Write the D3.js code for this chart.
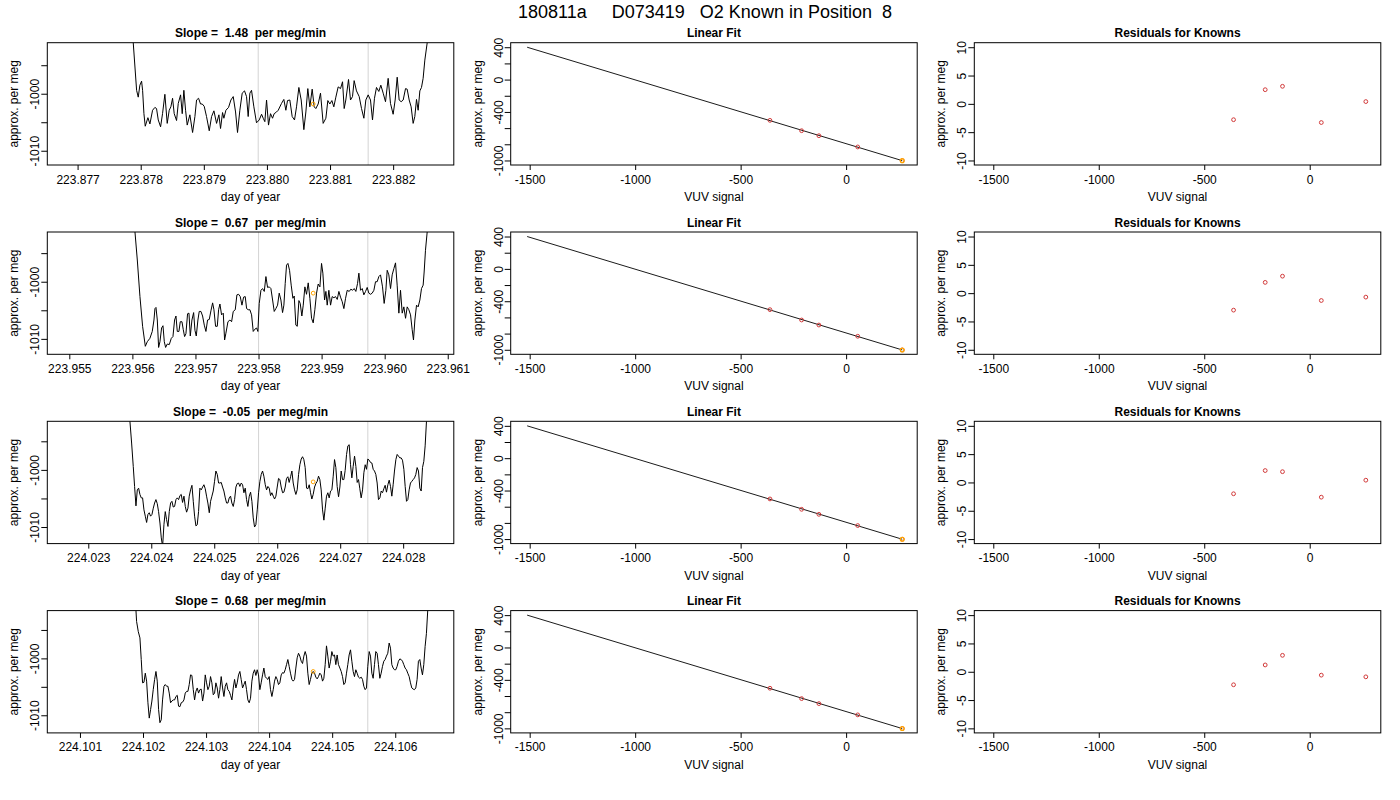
<!DOCTYPE html>
<html>
<head>
<meta charset="utf-8">
<script src="https://cdn.jsdelivr.net/npm/d3@7"></script>
<style>
  body { margin: 0; background: #fff; }
  svg { font-family: "Liberation Sans", Arial, Helvetica, sans-serif; }
</style>
</head>
<body>
<svg id="chart" width="1400" height="800"></svg>
<script>
// _____

// Data
// _____

const pageTitle = "180811a     D073419   O2 Known in Position  8";

// one entry per row: first day tick, slope text, x / y ranges of the trace panel
const baseDays = [223.877, 223.955, 224.023, 224.101];
const slopeText = ["1.48", "0.67", "-0.05", "0.68"];
const dayRange = [[-0.480, 5.961], [-0.349, 6.096], [-0.651, 5.804], [-0.518, 5.929]];
const megRange = [[-1012.5, -991.05], [-1012.7, -991.3], [-1012.9, -991.5], [-1013.1, -991.6]];

// traces: [thousandths of a day after baseDays[row], per meg]
const trace1 = [[0.866,-987.1],[0.882,-991.1],[0.935,-999.4],[0.961,-1000.6],[0.987,-998.5],[1.014,-997.8],[1.030,-999.4],[1.051,-1003.5],[1.072,-1005.7],[1.114,-1004.2],[1.146,-1005.3],[1.188,-1002.9],[1.225,-1002.4],[1.251,-1002.6],[1.278,-1004.6],[1.315,-1005.8],[1.346,-1003.5],[1.383,-1000.1],[1.420,-1005.2],[1.452,-1002.9],[1.478,-1002.3],[1.505,-1000.8],[1.531,-1003.5],[1.568,-1004.7],[1.595,-1001.7],[1.632,-1000.2],[1.658,-1003.5],[1.684,-999.4],[1.711,-1002.9],[1.737,-1005.5],[1.779,-1003.7],[1.822,-1006.8],[1.859,-1004.0],[1.885,-1001.1],[1.917,-1000.8],[1.948,-1001.8],[1.975,-1001.8],[2.006,-1002.2],[2.043,-1004.0],[2.086,-1006.5],[2.123,-1004.0],[2.160,-1003.0],[2.202,-1005.2],[2.239,-1003.7],[2.265,-1006.1],[2.297,-1003.3],[2.318,-1004.3],[2.350,-1002.9],[2.392,-1002.4],[2.429,-1001.1],[2.466,-1000.5],[2.503,-1003.2],[2.534,-1006.8],[2.571,-1002.9],[2.608,-999.9],[2.645,-999.5],[2.677,-1000.5],[2.703,-1004.0],[2.730,-999.9],[2.756,-999.4],[2.793,-1002.3],[2.835,-1005.1],[2.878,-1004.6],[2.915,-1003.6],[2.941,-1004.3],[2.967,-1004.9],[2.994,-1001.1],[3.025,-1005.5],[3.057,-1003.5],[3.089,-1004.3],[3.115,-1003.5],[3.152,-1003.2],[3.179,-1002.9],[3.231,-1001.7],[3.268,-1001.0],[3.300,-1002.9],[3.326,-1001.2],[3.363,-1001.1],[3.400,-1004.0],[3.437,-1004.6],[3.469,-1002.3],[3.506,-998.9],[3.543,-1001.1],[3.585,-1006.3],[3.617,-1003.2],[3.648,-999.1],[3.680,-1002.3],[3.717,-999.2],[3.749,-1002.3],[3.775,-1002.6],[3.812,-1001.8],[3.849,-999.9],[3.891,-1005.2],[3.934,-1004.3],[3.965,-1001.2],[3.997,-1001.8],[4.029,-1001.2],[4.060,-1002.3],[4.092,-1000.6],[4.129,-998.8],[4.166,-999.1],[4.198,-997.9],[4.224,-1002.6],[4.250,-1001.1],[4.293,-997.5],[4.324,-1001.1],[4.356,-1000.5],[4.382,-997.7],[4.419,-999.5],[4.462,-1000.5],[4.499,-1002.6],[4.536,-1004.3],[4.567,-1001.1],[4.604,-1000.2],[4.641,-1001.1],[4.673,-1004.6],[4.704,-1000.8],[4.736,-998.9],[4.773,-999.6],[4.805,-998.5],[4.842,-999.9],[4.879,-1001.4],[4.921,-997.3],[4.958,-1001.7],[5.000,-1003.6],[5.032,-1001.1],[5.064,-997.1],[5.095,-1001.1],[5.127,-1001.4],[5.159,-1001.1],[5.196,-999.1],[5.222,-999.2],[5.254,-1001.1],[5.285,-1002.3],[5.317,-1005.2],[5.343,-1004.0],[5.370,-1001.0],[5.396,-1002.9],[5.423,-999.5],[5.449,-998.9],[5.475,-997.3],[5.502,-994.1],[5.539,-991.1],[5.560,-987.1]];

const trace2 = [[1.014,-986.3],[1.041,-991.3],[1.078,-996.2],[1.120,-1002.6],[1.162,-1007.8],[1.205,-1011.3],[1.236,-1010.5],[1.278,-1009.9],[1.315,-1008.7],[1.342,-1006.7],[1.358,-1004.7],[1.374,-1004.5],[1.395,-1006.7],[1.416,-1011.5],[1.437,-1010.5],[1.463,-1008.1],[1.485,-1007.7],[1.506,-1010.5],[1.527,-1011.5],[1.553,-1010.9],[1.585,-1011.0],[1.617,-1009.9],[1.643,-1009.6],[1.669,-1006.7],[1.691,-1006.0],[1.712,-1008.7],[1.738,-1008.7],[1.759,-1007.0],[1.786,-1007.0],[1.807,-1008.4],[1.828,-1009.6],[1.849,-1009.1],[1.875,-1005.6],[1.897,-1005.5],[1.918,-1009.5],[1.944,-1006.7],[1.971,-1005.4],[1.992,-1008.5],[2.013,-1009.5],[2.039,-1006.7],[2.060,-1005.2],[2.087,-1005.2],[2.113,-1006.0],[2.140,-1007.6],[2.166,-1008.7],[2.192,-1006.7],[2.219,-1006.6],[2.245,-1005.1],[2.272,-1003.7],[2.293,-1004.9],[2.319,-1007.8],[2.346,-1007.8],[2.367,-1004.9],[2.388,-1003.9],[2.414,-1005.8],[2.441,-1005.5],[2.462,-1010.2],[2.483,-1009.0],[2.515,-1007.0],[2.546,-1006.7],[2.573,-1007.0],[2.599,-1005.2],[2.631,-1004.9],[2.657,-1002.3],[2.684,-1002.2],[2.710,-1002.6],[2.737,-1004.1],[2.763,-1002.7],[2.789,-1002.6],[2.811,-1004.7],[2.837,-1004.9],[2.863,-1004.9],[2.890,-1005.8],[2.916,-1008.7],[2.943,-1008.3],[2.969,-1008.1],[2.990,-1008.7],[3.011,-1003.8],[3.038,-1001.5],[3.064,-1001.2],[3.091,-1001.7],[3.117,-999.1],[3.143,-1001.0],[3.170,-1000.9],[3.196,-1001.2],[3.223,-1003.2],[3.249,-1005.2],[3.275,-1004.7],[3.302,-1004.1],[3.328,-1002.0],[3.355,-1003.2],[3.381,-1005.4],[3.402,-1004.1],[3.423,-1000.3],[3.444,-997.1],[3.466,-996.8],[3.492,-998.0],[3.518,-1000.6],[3.545,-1002.9],[3.566,-1002.5],[3.592,-1007.6],[3.614,-1007.8],[3.640,-1003.3],[3.661,-1003.8],[3.687,-1006.0],[3.709,-1004.1],[3.735,-1000.9],[3.761,-1002.2],[3.788,-1000.2],[3.814,-1002.9],[3.841,-1006.4],[3.867,-1007.2],[3.893,-1004.9],[3.920,-1002.0],[3.946,-1000.4],[3.973,-1000.9],[3.999,-996.8],[4.020,-998.5],[4.047,-1003.2],[4.068,-1001.7],[4.089,-1004.1],[4.115,-1001.5],[4.142,-1004.1],[4.168,-1002.6],[4.195,-1002.8],[4.221,-1002.6],[4.248,-1003.1],[4.274,-1001.7],[4.300,-1002.7],[4.327,-1003.5],[4.353,-1004.7],[4.380,-1002.9],[4.406,-1001.5],[4.438,-1001.7],[4.464,-1001.3],[4.491,-1001.5],[4.517,-1001.2],[4.543,-1001.7],[4.570,-1000.3],[4.591,-998.5],[4.617,-1001.5],[4.644,-1001.2],[4.670,-1002.3],[4.697,-1001.7],[4.723,-1001.0],[4.749,-1002.0],[4.776,-1002.2],[4.802,-1002.0],[4.829,-1001.5],[4.855,-1000.0],[4.881,-1000.0],[4.908,-999.1],[4.934,-998.8],[4.966,-1000.9],[4.992,-1003.8],[5.019,-1001.5],[5.040,-998.0],[5.066,-998.8],[5.093,-1001.2],[5.119,-998.8],[5.146,-997.7],[5.172,-996.7],[5.198,-1000.6],[5.225,-1005.5],[5.251,-1001.5],[5.278,-1005.5],[5.304,-1004.4],[5.331,-1006.4],[5.357,-1004.4],[5.383,-1004.9],[5.410,-1005.8],[5.436,-1008.4],[5.457,-1010.2],[5.479,-1006.7],[5.505,-1004.1],[5.531,-1004.4],[5.558,-1003.2],[5.584,-1001.2],[5.610,-1000.6],[5.626,-998.3],[5.647,-994.5],[5.674,-991.3],[5.695,-987.5]];

const trace3 = [[0.640,-987.7],[0.661,-991.5],[0.688,-995.3],[0.714,-999.4],[0.735,-1002.9],[0.757,-1006.3],[0.778,-1003.5],[0.799,-1003.2],[0.820,-1004.3],[0.841,-1004.9],[0.862,-1004.9],[0.884,-1007.0],[0.905,-1008.1],[0.926,-1009.2],[0.947,-1007.8],[0.968,-1007.5],[0.989,-1008.1],[1.011,-1007.8],[1.032,-1006.7],[1.053,-1005.8],[1.074,-1005.2],[1.095,-1005.9],[1.116,-1007.3],[1.138,-1009.3],[1.159,-1011.9],[1.180,-1013.4],[1.201,-1009.6],[1.222,-1007.3],[1.243,-1008.7],[1.265,-1009.9],[1.286,-1007.3],[1.307,-1005.8],[1.328,-1005.5],[1.349,-1006.5],[1.370,-1006.4],[1.392,-1005.2],[1.413,-1004.9],[1.434,-1005.2],[1.455,-1004.5],[1.476,-1004.3],[1.497,-1005.7],[1.519,-1004.6],[1.540,-1006.4],[1.561,-1007.4],[1.582,-1006.7],[1.603,-1004.6],[1.624,-1003.5],[1.646,-1002.7],[1.667,-1005.5],[1.688,-1008.1],[1.709,-1009.8],[1.730,-1009.6],[1.751,-1007.3],[1.772,-1003.2],[1.794,-1003.5],[1.815,-1003.0],[1.836,-1002.6],[1.857,-1003.3],[1.878,-1004.6],[1.899,-1005.8],[1.921,-1007.5],[1.942,-1005.5],[1.963,-1004.6],[1.984,-1003.7],[2.005,-1002.0],[2.026,-1000.2],[2.048,-1000.8],[2.069,-1002.3],[2.090,-1002.3],[2.111,-1002.2],[2.132,-1003.0],[2.153,-1003.7],[2.175,-1004.9],[2.196,-1005.8],[2.217,-1005.8],[2.238,-1004.9],[2.259,-1004.6],[2.280,-1005.8],[2.302,-1006.4],[2.323,-1005.2],[2.344,-1003.0],[2.365,-1002.4],[2.386,-1002.3],[2.407,-1002.9],[2.429,-1002.3],[2.450,-1002.6],[2.471,-1004.0],[2.492,-1003.2],[2.513,-1005.2],[2.534,-1006.4],[2.556,-1004.6],[2.577,-1003.9],[2.598,-1005.5],[2.619,-1008.4],[2.640,-1010.0],[2.661,-1009.6],[2.683,-1007.0],[2.704,-1004.0],[2.725,-1002.0],[2.746,-1000.8],[2.767,-1000.2],[2.788,-1001.1],[2.810,-1002.6],[2.831,-1003.5],[2.852,-1002.9],[2.873,-1003.2],[2.894,-1004.5],[2.915,-1004.0],[2.937,-1004.6],[2.958,-1005.1],[2.979,-1004.6],[3.000,-1003.0],[3.021,-1001.5],[3.042,-1001.7],[3.063,-1003.0],[3.085,-1004.0],[3.106,-1003.9],[3.127,-1003.0],[3.148,-1001.5],[3.169,-1001.2],[3.190,-1002.2],[3.212,-1001.2],[3.233,-1000.2],[3.254,-1002.3],[3.275,-1003.5],[3.296,-1004.3],[3.317,-1003.5],[3.339,-1000.8],[3.360,-999.1],[3.381,-998.1],[3.402,-997.7],[3.423,-998.2],[3.444,-999.6],[3.466,-1003.2],[3.487,-1003.3],[3.508,-1002.6],[3.529,-1004.0],[3.550,-1005.1],[3.571,-1004.3],[3.593,-1003.0],[3.614,-1002.4],[3.635,-1002.0],[3.656,-1001.1],[3.677,-1001.7],[3.698,-1003.5],[3.720,-1007.0],[3.741,-1008.8],[3.762,-1006.7],[3.783,-1004.6],[3.804,-1004.0],[3.825,-1004.9],[3.847,-1003.7],[3.868,-1003.5],[3.889,-1001.1],[3.910,-998.2],[3.931,-999.6],[3.952,-1002.9],[3.974,-1004.7],[3.995,-1003.0],[4.016,-1000.2],[4.037,-1001.7],[4.058,-1001.7],[4.079,-1000.1],[4.101,-997.3],[4.122,-995.8],[4.143,-995.6],[4.164,-999.1],[4.185,-1001.4],[4.206,-999.4],[4.228,-997.6],[4.249,-999.4],[4.270,-1002.2],[4.291,-1001.7],[4.312,-1003.3],[4.333,-1004.9],[4.355,-1003.5],[4.376,-1000.5],[4.397,-999.1],[4.418,-999.9],[4.439,-998.1],[4.460,-998.3],[4.481,-998.7],[4.503,-998.8],[4.524,-999.9],[4.545,-1000.2],[4.566,-1000.8],[4.587,-1002.3],[4.608,-1005.2],[4.630,-1004.9],[4.651,-1003.7],[4.672,-1004.0],[4.693,-1003.3],[4.714,-1002.7],[4.735,-1003.9],[4.757,-1002.6],[4.778,-1001.8],[4.799,-1002.9],[4.820,-1004.6],[4.841,-1002.6],[4.862,-1000.2],[4.884,-998.2],[4.905,-997.3],[4.926,-997.6],[4.947,-997.9],[4.968,-997.9],[4.989,-998.3],[5.011,-999.9],[5.032,-1002.9],[5.053,-1005.5],[5.074,-1005.2],[5.095,-1003.5],[5.116,-1002.3],[5.138,-1002.0],[5.159,-1001.7],[5.180,-1001.4],[5.201,-1000.8],[5.222,-999.6],[5.243,-1000.2],[5.265,-1003.2],[5.286,-1003.7],[5.307,-999.6],[5.328,-998.5],[5.349,-995.8],[5.370,-991.5],[5.392,-987.7]];

const trace4 = [[0.877,-988.0],[0.888,-991.5],[0.898,-993.5],[0.925,-995.3],[0.951,-996.4],[0.972,-1000.2],[0.993,-1004.3],[1.015,-1004.2],[1.036,-1002.6],[1.057,-1004.0],[1.078,-1007.8],[1.099,-1010.5],[1.120,-1009.0],[1.141,-1007.5],[1.162,-1005.5],[1.184,-1003.7],[1.205,-1002.3],[1.226,-1004.0],[1.247,-1009.0],[1.268,-1011.3],[1.289,-1010.8],[1.310,-1007.3],[1.332,-1004.9],[1.353,-1004.6],[1.374,-1004.9],[1.395,-1004.9],[1.416,-1006.1],[1.437,-1007.8],[1.458,-1007.5],[1.480,-1007.3],[1.501,-1007.3],[1.522,-1006.7],[1.543,-1006.5],[1.564,-1008.4],[1.585,-1008.5],[1.606,-1007.8],[1.627,-1007.7],[1.649,-1007.3],[1.670,-1006.1],[1.691,-1005.8],[1.712,-1005.8],[1.733,-1004.6],[1.754,-1002.9],[1.775,-1003.0],[1.797,-1005.5],[1.818,-1007.3],[1.839,-1005.8],[1.860,-1005.2],[1.881,-1006.1],[1.902,-1005.5],[1.923,-1005.4],[1.945,-1007.5],[1.966,-1006.1],[1.987,-1002.9],[2.008,-1004.3],[2.029,-1005.5],[2.050,-1004.9],[2.071,-1003.2],[2.092,-1004.3],[2.114,-1006.4],[2.135,-1006.1],[2.156,-1004.3],[2.177,-1005.2],[2.198,-1007.0],[2.219,-1005.5],[2.240,-1003.2],[2.262,-1005.2],[2.283,-1006.7],[2.304,-1004.9],[2.325,-1004.3],[2.346,-1005.5],[2.367,-1005.8],[2.388,-1006.5],[2.410,-1007.3],[2.431,-1005.2],[2.452,-1003.7],[2.473,-1005.2],[2.494,-1004.3],[2.515,-1002.9],[2.536,-1002.3],[2.557,-1003.7],[2.579,-1005.2],[2.600,-1004.6],[2.621,-1004.0],[2.642,-1005.5],[2.663,-1007.3],[2.684,-1007.8],[2.705,-1007.0],[2.727,-1004.0],[2.748,-1002.6],[2.769,-1002.0],[2.790,-1003.0],[2.811,-1002.0],[2.832,-1002.9],[2.853,-1005.5],[2.874,-1004.3],[2.896,-1002.9],[2.917,-1001.7],[2.938,-1003.2],[2.959,-1003.5],[2.980,-1003.7],[3.001,-1003.2],[3.022,-1005.5],[3.044,-1006.7],[3.065,-1005.5],[3.086,-1004.0],[3.107,-1003.2],[3.128,-1003.7],[3.149,-1004.6],[3.170,-1004.3],[3.192,-1002.9],[3.213,-1002.5],[3.234,-1002.6],[3.255,-1002.0],[3.276,-1001.1],[3.297,-1000.2],[3.318,-1001.4],[3.339,-1002.6],[3.361,-1003.7],[3.382,-1004.0],[3.403,-1003.7],[3.424,-1001.7],[3.445,-999.9],[3.466,-999.1],[3.487,-999.6],[3.509,-1000.5],[3.530,-1000.9],[3.551,-999.6],[3.572,-998.8],[3.593,-999.6],[3.614,-1002.6],[3.635,-1004.6],[3.656,-1003.7],[3.678,-1002.6],[3.699,-1002.3],[3.720,-1002.6],[3.741,-1003.3],[3.762,-1003.6],[3.783,-1003.2],[3.804,-1002.6],[3.826,-1002.9],[3.847,-1004.0],[3.868,-1003.5],[3.889,-1001.1],[3.910,-997.8],[3.931,-999.6],[3.952,-1001.7],[3.974,-1000.5],[3.995,-998.8],[4.016,-999.6],[4.037,-999.4],[4.058,-1001.1],[4.079,-999.4],[4.100,-1001.1],[4.122,-1001.7],[4.143,-1002.3],[4.164,-1003.2],[4.185,-1004.6],[4.206,-1004.3],[4.227,-1002.6],[4.248,-1001.1],[4.269,-999.4],[4.291,-998.5],[4.312,-1000.5],[4.333,-1002.3],[4.354,-1003.2],[4.375,-1002.0],[4.396,-1002.6],[4.417,-1003.3],[4.439,-1003.5],[4.460,-1003.3],[4.481,-1003.7],[4.502,-1004.9],[4.523,-1005.5],[4.544,-1005.2],[4.565,-1001.4],[4.587,-998.8],[4.608,-999.6],[4.629,-1002.6],[4.650,-1003.5],[4.671,-1001.1],[4.692,-998.8],[4.713,-999.1],[4.734,-1001.1],[4.756,-1003.5],[4.777,-1002.6],[4.798,-1001.4],[4.819,-1000.5],[4.840,-1000.2],[4.861,-999.6],[4.882,-999.1],[4.904,-997.3],[4.925,-998.2],[4.946,-1001.1],[4.967,-1001.7],[4.988,-1002.0],[5.009,-1002.0],[5.030,-1001.4],[5.051,-1000.5],[5.073,-1000.1],[5.094,-1000.2],[5.115,-1000.5],[5.136,-1001.1],[5.157,-1001.7],[5.178,-1002.0],[5.199,-1002.6],[5.221,-1003.2],[5.242,-1004.3],[5.263,-1005.2],[5.284,-1005.4],[5.305,-1005.5],[5.326,-1005.2],[5.347,-1003.7],[5.368,-1000.5],[5.390,-1000.2],[5.411,-1001.7],[5.432,-1002.9],[5.453,-1001.1],[5.474,-997.9],[5.495,-995.6],[5.516,-991.5],[5.538,-988.0]];

const traces = [trace1, trace2, trace3, trace4];

// grey markers (start / end of the averaging window) and the orange mean point
const windowMarks = [[2.862, 4.604], [3.001, 4.733], [2.704, 4.439], [2.832, 4.565]];
const meanPoints = [[3.733, -1001.8], [3.867, -1002.0], [3.571, -1002.1], [3.699, -1002.3]];

// known standards: VUV signal and assigned per meg
const vuvKnown = [-361, -211, -129, 55, 266];
const megKnown = [-504, -632, -694, -833, -1002];
const fitLineX = [-1512, 266];
const fitLineY = [400, -1002];
const sampleVuv = 266;
const sampleMeg = -1002;

// residuals of the knowns, one array per row
const resid1 = [-2.8, 2.5, 3.1, -3.3, 0.4];
const resid2 = [-3.0, 1.9, 3.0, -1.3, -0.7];
const resid3 = [-2.0, 2.1, 1.9, -2.6, 0.4];
const resid4 = [-2.3, 1.2, 2.9, -0.6, -0.9];
const residuals = [resid1, resid2, resid3, resid4];

// axis ranges and ticks
const traceTicksY = [-1010, -1005, -1000, -995];
const traceLabelsY = [-1010, -1000];
const vuvRange = [-1590, 337];
const fitRange = [-1056, 456];
const fitTicksY = [-1000, -800, -600, -400, -200, 0, 200, 400];
const fitLabelsY = [-1000, -400, 0, 400];
const residRange = [-10.8, 10.8];
const residTicksY = [-10, -5, 0, 5, 10];
const vuvTicks = [-1500, -1000, -500, 0];

// _____

// Layout
// _____

const svg = d3.select("#chart");
const boxTop0 = 42.7;
const rowStep = 189.3;
const boxH = 122.3;
const boxW = 406.5;
const colLeft = [47.3, 510.7, 974.3];
const pointRed = "#d23a3a";
const pointOrange = "#ffa500";

svg.append("text")
  .attr("x", 705)
  .attr("y", 17.5)
  .attr("text-anchor", "middle")
  .attr("xml:space", "preserve")
  .style("white-space", "pre")
  .style("font-size", "18px")
  .text(pageTitle);

// _____

// Functions
// _____

// Draw the frame, axes and titles of one panel, return scales and a clipped group
function drawPanel(opt) {
  let g = svg.append("g").attr("transform", `translate(${opt.left},${opt.top})`);
  let x = d3.scaleLinear().domain(opt.xDomain).range([0, boxW]);
  let y = d3.scaleLinear().domain(opt.yDomain).range([boxH, 0]);

  let clipId = "clip" + opt.id;
  g.append("clipPath").attr("id", clipId)
    .append("rect").attr("width", boxW).attr("height", boxH);

  let plot = g.append("g").attr("clip-path", `url(#${clipId})`);

  // bottom axis
  let xAxis = g.append("g")
    .attr("transform", `translate(0,${boxH})`)
    .call(d3.axisBottom(x).tickValues(opt.xTicks).tickFormat(opt.xFormat).tickSize(5).tickPadding(5).tickSizeOuter(0));
  xAxis.select(".domain").remove();
  xAxis.attr("font-size", 12).attr("font-family", null);

  // left axis, R style labels parallel to the axis
  let yAxis = g.append("g")
    .call(d3.axisLeft(y).tickValues(opt.yTicks)
      .tickFormat(d => opt.yLabels.includes(d) ? d : "").tickSize(6).tickSizeOuter(0));
  yAxis.select(".domain").remove();
  yAxis.attr("font-size", 12).attr("font-family", null);
  yAxis.selectAll(".tick text")
    .attr("x", 0).attr("y", -8).attr("dy", null)
    .attr("text-anchor", "middle")
    .attr("transform", "rotate(-90)");

  g.selectAll(".tick line").attr("stroke", "#000");

  // box
  g.append("rect")
    .attr("width", boxW).attr("height", boxH)
    .attr("fill", "none").attr("stroke", "#000").attr("stroke-width", 1);

  // titles
  g.append("text")
    .attr("x", boxW / 2).attr("y", -5.5)
    .attr("text-anchor", "middle")
    .attr("xml:space", "preserve")
    .style("white-space", "pre")
    .style("font-size", "12px").style("font-weight", "bold")
    .text(opt.title);

  g.append("text")
    .attr("x", boxW / 2).attr("y", boxH + 36)
    .attr("text-anchor", "middle")
    .style("font-size", "12px")
    .text(opt.xTitle);

  g.append("text")
    .attr("transform", `translate(-29,${boxH / 2}) rotate(-90)`)
    .attr("text-anchor", "middle")
    .style("font-size", "12px")
    .text("approx. per meg");

  return { g: g, x: x, y: y, plot: plot };
}

// _____

// Script
// _____

baseDays.forEach((base, r) => {
  let top = boxTop0 + rowStep * r;

  // 1. trace of the measurement
  let range = dayRange[r];
  let dayTicks = d3.range(Math.ceil(range[0]), Math.floor(range[1]) + 1);
  let p1 = drawPanel({
    id: "t" + r, left: colLeft[0], top: top,
    xDomain: range, yDomain: megRange[r],
    xTicks: dayTicks, xFormat: d => (base + d / 1000).toFixed(3),
    yTicks: traceTicksY, yLabels: traceLabelsY,
    title: "Slope =  " + slopeText[r] + "  per meg/min", xTitle: "day of year"
  });

  windowMarks[r].forEach((m) => {
    p1.plot.append("line")
      .attr("x1", p1.x(m)).attr("x2", p1.x(m))
      .attr("y1", 0).attr("y2", boxH)
      .attr("stroke", "#d3d3d3").attr("stroke-width", 1);
  });

  let line = d3.line().x(d => p1.x(d[0])).y(d => p1.y(d[1]));
  p1.plot.append("path")
    .datum(traces[r])
    .attr("d", line)
    .attr("fill", "none").attr("stroke", "#000").attr("stroke-width", 1);

  p1.plot.append("circle")
    .attr("cx", p1.x(meanPoints[r][0])).attr("cy", p1.y(meanPoints[r][1]))
    .attr("r", 1.9).attr("fill", "none").attr("stroke", pointOrange).attr("stroke-width", 1);

  // 2. linear fit
  let p2 = drawPanel({
    id: "f" + r, left: colLeft[1], top: top,
    xDomain: vuvRange, yDomain: fitRange,
    xTicks: vuvTicks, xFormat: d => d,
    yTicks: fitTicksY, yLabels: fitLabelsY,
    title: "Linear Fit", xTitle: "VUV signal"
  });

  p2.plot.append("line")
    .attr("x1", p2.x(fitLineX[0])).attr("y1", p2.y(fitLineY[0]))
    .attr("x2", p2.x(fitLineX[1])).attr("y2", p2.y(fitLineY[1]))
    .attr("stroke", "#000").attr("stroke-width", 0.9);

  vuvKnown.forEach((v, i) => {
    p2.plot.append("circle")
      .attr("cx", p2.x(v)).attr("cy", p2.y(megKnown[i]))
      .attr("r", 1.9).attr("fill", "none").attr("stroke", pointRed).attr("stroke-width", 1);
  });
  p2.plot.append("circle")
    .attr("cx", p2.x(sampleVuv)).attr("cy", p2.y(sampleMeg))
    .attr("r", 1.9).attr("fill", "none").attr("stroke", pointOrange).attr("stroke-width", 1.3);

  // 3. residuals
  let p3 = drawPanel({
    id: "r" + r, left: colLeft[2], top: top,
    xDomain: vuvRange, yDomain: residRange,
    xTicks: vuvTicks, xFormat: d => d,
    yTicks: residTicksY, yLabels: residTicksY,
    title: "Residuals for Knowns", xTitle: "VUV signal"
  });

  vuvKnown.forEach((v, i) => {
    p3.plot.append("circle")
      .attr("cx", p3.x(v)).attr("cy", p3.y(residuals[r][i]))
      .attr("r", 1.9).attr("fill", "none").attr("stroke", pointRed).attr("stroke-width", 1);
  });
});
</script>
</body>
</html>
